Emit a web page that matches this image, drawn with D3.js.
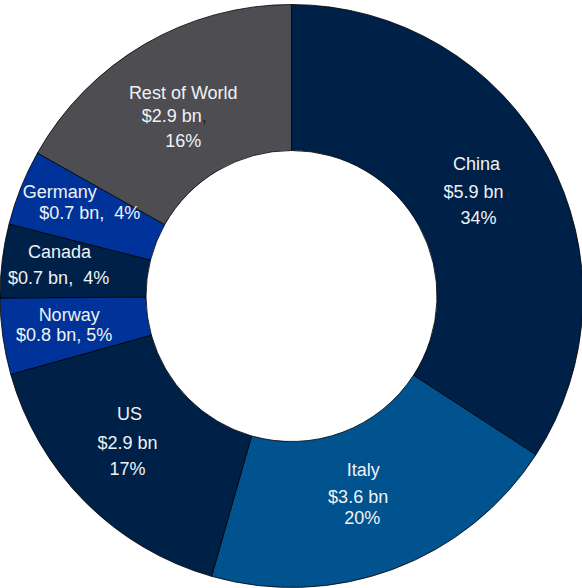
<!DOCTYPE html>
<html>
<head>
<meta charset="utf-8">
<script src="https://cdn.jsdelivr.net/npm/d3@7"></script>
<style>
  body { margin: 0; background: #fff; }
  svg { display: block; }
  .lbl { font-family: "Liberation Sans", Arial, sans-serif; font-size: 18px; fill: #f0f2f5; white-space: pre; }
</style>
</head>
<body>
<div id="chart"></div>
<script>
// slices, clockwise from 12 o'clock
let countries   = ["China", "Italy", "US", "Norway", "Canada", "Germany", "Rest of World"];
let shares      = [34.17, 20.25, 16.25, 4.22, 4.08, 4.19, 16.84];   // share of the ring
let valueLabels = ["$5.9 bn", "$3.6 bn", "$2.9 bn", "$0.8 bn", "$0.7 bn", "$0.7 bn", "$2.9 bn"];
let pctLabels   = ["34%", "20%", "17%", "5%", "4%", "4%", "16%"];

let slice_colors = ["#002147", "#00538f", "#002147", "#003399", "#002147", "#003399", "#4d4d52"];

// label layout, offsets from each slice centroid: [dx, dy] per line
let label_layout = [
    {lines: [[-7, -28], [-10, 0], [-5, 26]]},
    {lines: [[-5, -31], [-10, -4], [-6, 17]]},
    {lines: [[-7, -36], [-9, -7], [-9, 19]]},
    {lines: [[-6, -11], [-11, 9]], join: ", "},
    {lines: [[-15, -18], [-16, 8]], join: ",  "},
    {lines: [[-29, -23], [1, -2]], join: ",  "},
    {lines: [[2, -14], [-7, 9], [2, 34]], comma: true}
];

let w = 582, h = 588;
let cx = 291.5, cy = 296,
    outerR = 291.5, innerR = 145.5;

let svg = d3.select("#chart").append("svg")
    .attr("width", w)
    .attr("height", h)
    .append("g")
    .attr("transform", "translate(" + cx + "," + cy + ")");

let pie = d3.pie().sort(null).value(function(d) { return d; });
let arcs = pie(shares);

let arc = d3.arc().innerRadius(innerR).outerRadius(outerR);

svg.selectAll(".slice")
    .data(arcs)
    .enter().append("path")
    .attr("class", "slice")
    .attr("d", arc)
    .style("fill", function(d, i) { return slice_colors[i]; })
    .style("stroke", "#000")
    .style("stroke-width", 0.8);

arcs.forEach(function(d, i) {
    let c = arc.centroid(d);
    let lay = label_layout[i];
    let texts;
    if (lay.join) {
        texts = [countries[i], valueLabels[i] + lay.join + pctLabels[i]];
    } else {
        texts = [countries[i], valueLabels[i], pctLabels[i]];
    }
    texts.forEach(function(t, j) {
        let txt = svg.append("text")
            .attr("class", "lbl")
            .attr("x", c[0] + lay.lines[j][0])
            .attr("y", c[1] + lay.lines[j][1])
            .attr("text-anchor", "middle")
            .attr("dominant-baseline", "central");
        txt.append("tspan").text(t);
        if (lay.comma && j === 1) {
            txt.append("tspan").style("fill", "#222").text(",");
        }
    });
});
</script>
</body>
</html>
